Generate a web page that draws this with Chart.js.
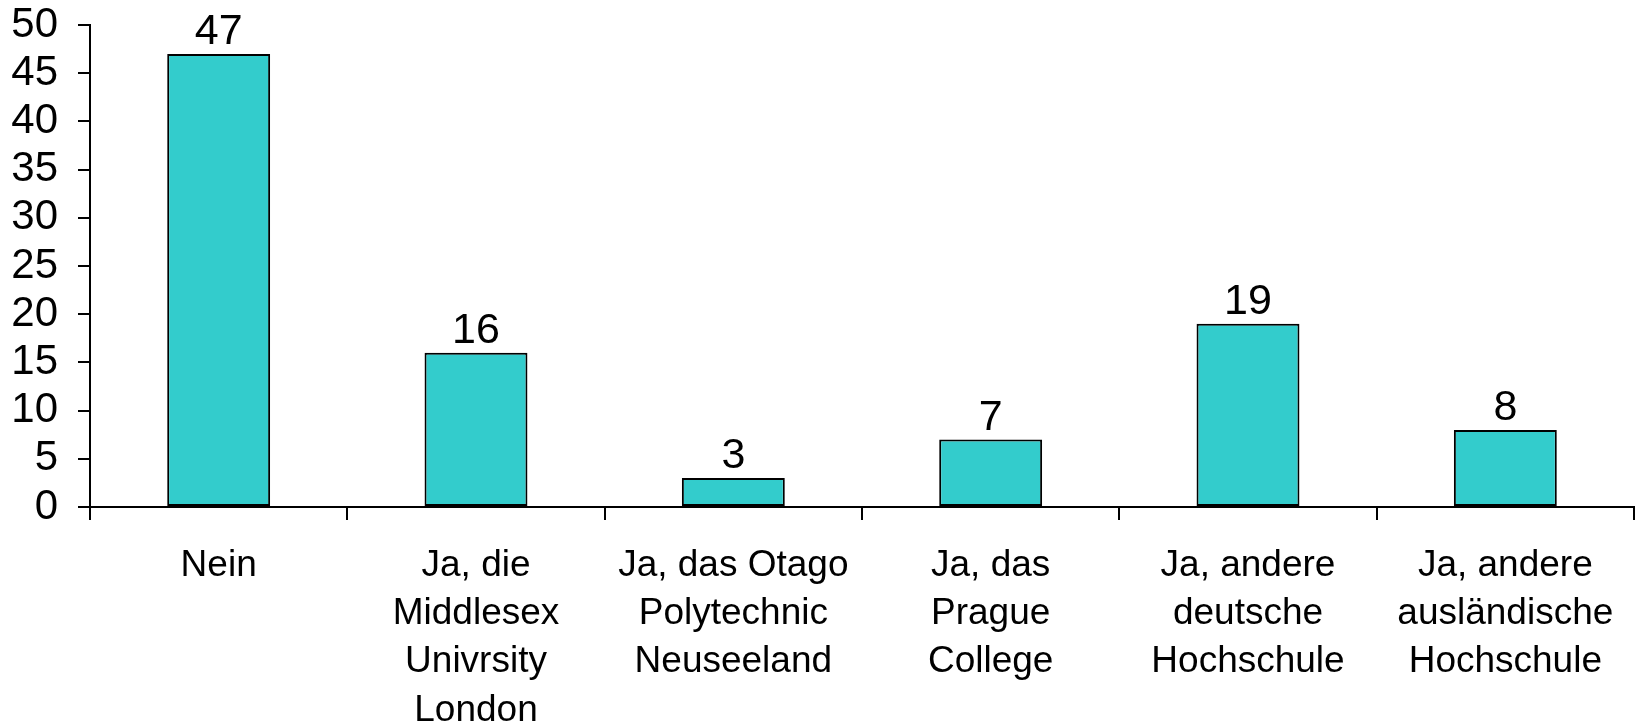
<!DOCTYPE html>
<html>
<head>
<meta charset="utf-8">
<script src="https://cdn.jsdelivr.net/npm/chart.js@4"></script>
<style>
  html, body { margin: 0; padding: 0; background: #ffffff; }
  #wrap { width: 1637px; height: 723px; }
</style>
</head>
<body>
<div id="wrap"><canvas id="c" width="1637" height="723"></canvas></div>
<script>
const categories = [
  "Nein",
  ["Ja, die", "Middlesex", "Univrsity", "London"],
  ["Ja, das Otago", "Polytechnic", "Neuseeland"],
  ["Ja, das", "Prague", "College"],
  ["Ja, andere", "deutsche", "Hochschule"],
  ["Ja, andere", "ausländische", "Hochschule"]
];
const values = [47, 16, 3, 7, 19, 8];
const yTicks = [0, 5, 10, 15, 20, 25, 30, 35, 40, 45, 50];

const FONT = "'Liberation Sans', Arial, sans-serif";

const valueLabels = {
  id: 'valueLabels',
  afterDatasetsDraw(chart) {
    const ctx = chart.ctx;
    const meta = chart.getDatasetMeta(0);
    ctx.save();
    ctx.font = "43px " + FONT;
    ctx.fillStyle = "#000000";
    ctx.textAlign = "center";
    ctx.textBaseline = "alphabetic";
    meta.data.forEach((bar, i) => {
      ctx.fillText(String(values[i]), bar.x, bar.y - 10);
    });
    ctx.restore();
  }
};

new Chart(document.getElementById('c'), {
  type: 'bar',
  data: {
    labels: categories,
    datasets: [{
      data: values,
      backgroundColor: '#33CCCC',
      borderColor: '#000000',
      borderWidth: 2,
      borderSkipped: false,
      categoryPercentage: 1.0,
      barPercentage: 0.4
    }]
  },
  options: {
    responsive: false,
    animation: false,
    layout: { padding: { top: 25, right: 3, left: 0, bottom: 0 } },
    plugins: {
      legend: { display: false },
      tooltip: { enabled: false }
    },
    scales: {
      x: {
        offset: true,
        grid: {
          offset: true,
          drawOnChartArea: false,
          drawTicks: true,
          tickLength: 13,
          color: '#000000',
          lineWidth: 2
        },
        border: { display: true, color: '#000000', width: 2 },
        ticks: {
          color: '#000000',
          font: { family: FONT, size: 37, lineHeight: 1.3 },
          padding: 22,
          maxRotation: 0,
          minRotation: 0,
          autoSkip: false
        },
        afterFit(scale) { scale.height = 216; scale.paddingLeft = 0; scale.paddingRight = 0; }
      },
      y: {
        min: 0,
        max: 50,
        afterBuildTicks(scale) { scale.ticks = yTicks.map(v => ({ value: v })); },
        grid: {
          drawOnChartArea: false,
          drawTicks: true,
          tickLength: 12,
          color: '#000000',
          lineWidth: 2
        },
        border: { display: true, color: '#000000', width: 2 },
        ticks: {
          color: '#000000',
          font: { family: FONT, size: 42 },
          padding: 20,
          autoSkip: false
        },
        afterFit(scale) { scale.width = 90; scale.paddingTop = 0; scale.paddingBottom = 0; }
      }
    }
  },
  plugins: [valueLabels]
});
</script>
</body>
</html>
